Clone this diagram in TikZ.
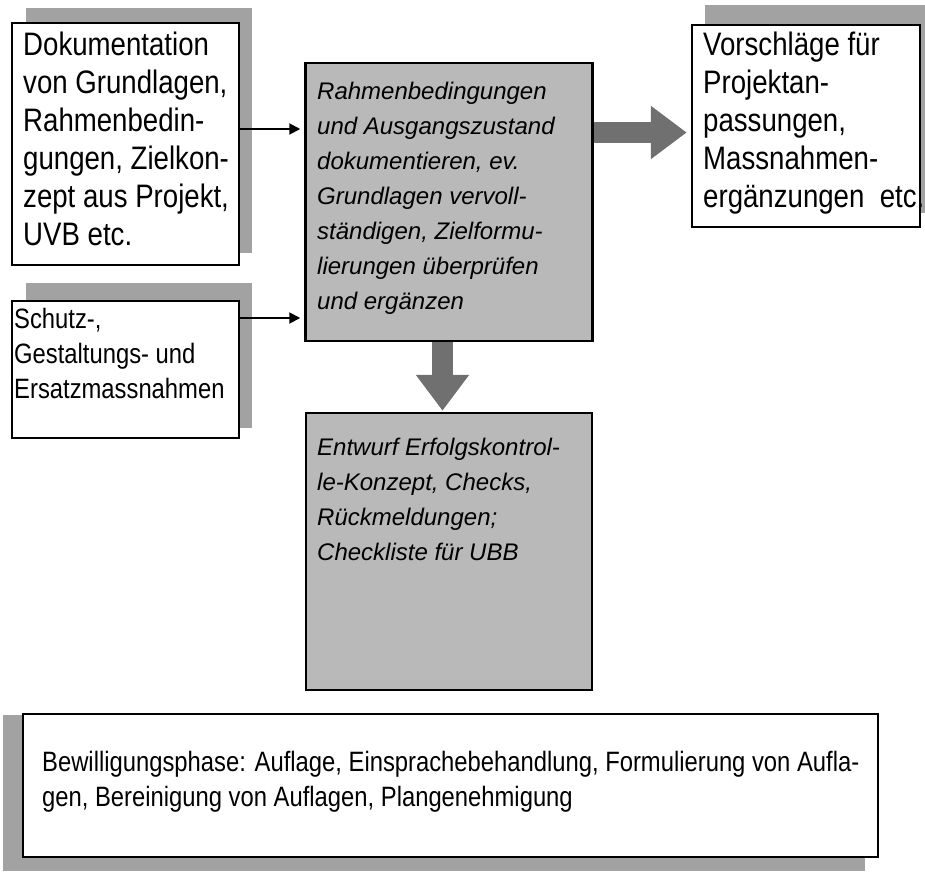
\documentclass[tikz,border=0pt]{standalone}
\usepackage{fontspec}
\setmainfont{Liberation Sans}
\newfontfamily\narrowsans{Liberation Sans}[FakeStretch=0.85]
\usetikzlibrary{arrows.meta,calc}

\definecolor{shadowgray}{HTML}{A2A2A2}
\definecolor{panelgray}{HTML}{B9B9B9}
\definecolor{arrowgray}{HTML}{707070}

\begin{document}
\begin{tikzpicture}[x=1pt,y=-1pt,
  whitebox/.style={draw=black,line width=2.5pt,fill=white,inner sep=0pt},
  greybox/.style={draw=black,line width=2.5pt,fill=panelgray,inner sep=0pt},
  shadow/.style={fill=shadowgray},
  % texts are anchored at the baseline of their last line
  bigtext/.style={inner sep=0pt,anchor=base west,align=left,
    font=\narrowsans\fontsize{32.5}{38}\selectfont},
  midtext/.style={inner sep=0pt,anchor=base west,align=left,
    font=\narrowsans\fontsize{28}{35}\selectfont},
  slanttext/.style={inner sep=0pt,anchor=base west,align=left,
    font=\itshape\fontsize{24}{35}\selectfont},
  feed/.style={line width=2pt,-{Triangle[length=11pt,width=11pt]},shorten >=4pt},
  fatarrow/.style={arrowgray,line width=21pt,-{Triangle[length=36pt,width=51pt]}}
]
\useasboundingbox (0,0) rectangle (925,871);

% drop shadows behind the white boxes
\fill[shadow] (26,8) rectangle (252,253);
\fill[shadow] (26,283) rectangle (252,428);
\fill[shadow] (705,5) rectangle (925,213);
\fill[shadow] (3,715) rectangle (865,871);

% boxes
\node[whitebox,minimum width=227pt,minimum height=242pt] (doc) at (125.5,144) {};
\node[whitebox,minimum width=227pt,minimum height=137pt] (schutz) at (125.5,369.5) {};
\node[whitebox,minimum width=228pt,minimum height=202pt] (vor) at (806,126) {};
\node[greybox,minimum width=287pt,minimum height=278pt] (rahmen) at (449,202) {};
\node[greybox,minimum width=286pt,minimum height=277pt] (entwurf) at (449,551.5) {};
\node[whitebox,line width=2pt,minimum width=855pt,minimum height=143pt] (bew) at (450.5,785.5) {};

% box texts
\node[bigtext] (tdoc) at (23,245) {Dokumentation\\von Grundlagen,\\Rahmenbedin-\\gungen, Zielkon-\\zept aus Projekt,\\UVB etc.};
\node[midtext] (tschutz) at (14,398) {Schutz-,\\Gestaltungs- und\\Ersatzmassnahmen};
\node[bigtext] (tvor) at (703,207) {Vorschläge für\\Projektan-\\passungen,\\Massnahmen-\\ergänzungen\ \ etc.};
\node[slanttext] (trahmen) at (317,309) {Rahmenbedingungen\\und Ausgangszustand\\dokumentieren, ev.\\Grundlagen vervoll-\\ständigen, Zielformu-\\lierungen überprüfen\\und ergänzen};
\node[slanttext] (tentwurf) at (317,560) {Entwurf Erfolgskontrol-\\le-Konzept, Checks,\\Rückmeldungen;\\Checkliste für UBB};
\node[midtext] (tbew) at (42,806) {Bewilligungsphase: Auflage, Einsprachebehandlung, Formulierung von Aufla-\\gen, Bereinigung von Auflagen, Plangenehmigung};

% connectors
\coordinate (row1) at (0,129);
\coordinate (row2) at (0,318);
\coordinate (rowr) at (0,132.5);
\coordinate (coldown) at (442.5,0);
\draw[feed] (doc.east |- row1) -- (rahmen.west |- row1);
\draw[feed] (schutz.east |- row2) -- (rahmen.west |- row2);
\draw[fatarrow,shorten >=4pt] (rahmen.east |- rowr) -- (vor.west |- rowr);
\draw[fatarrow,shorten >=1pt] (coldown |- rahmen.south) -- (coldown |- entwurf.north);
\end{tikzpicture}
\end{document}
